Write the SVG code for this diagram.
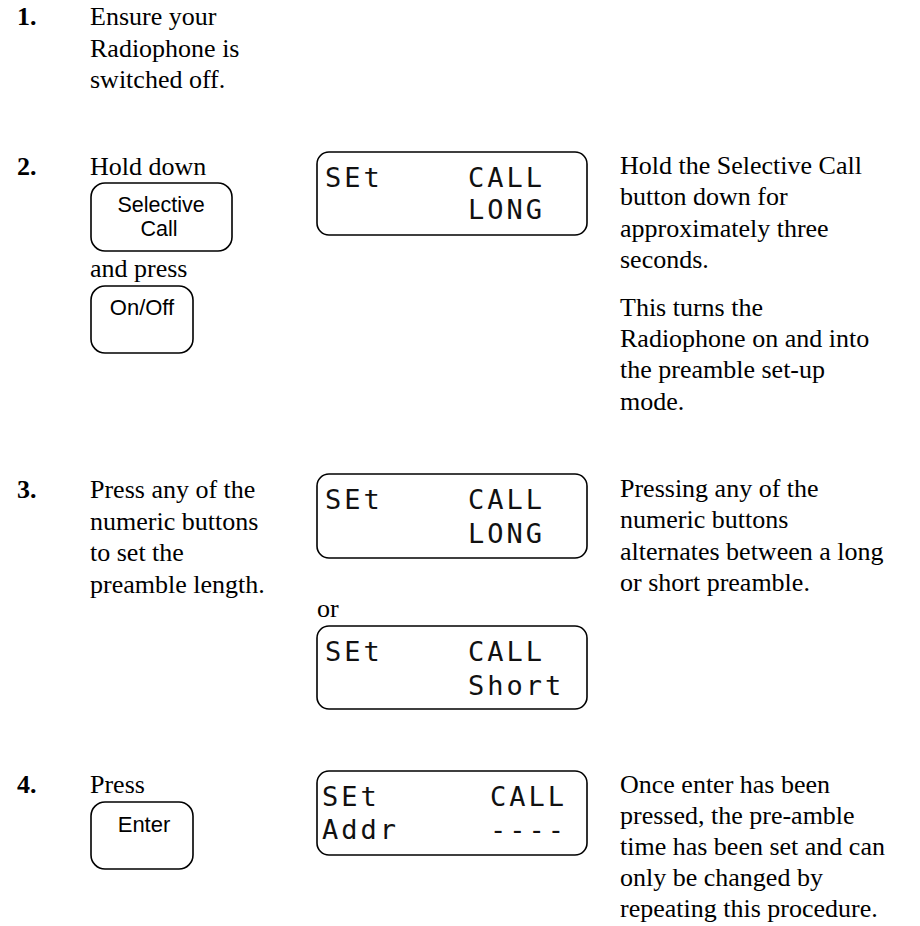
<svg xmlns="http://www.w3.org/2000/svg" width="920" height="926" viewBox="0 0 920 926">
<style>
.t{font-family:"Liberation Serif","Times New Roman",serif;font-size:26px;fill:#000}
.n{font-family:"Liberation Serif","Times New Roman",serif;font-size:26px;font-weight:bold;fill:#000}
.b{font-family:"Liberation Sans",Arial,sans-serif;font-size:22px;fill:#000;text-anchor:middle}
.btn{fill:#fff;stroke:#000;stroke-width:1.6}
.lcd{fill:#fff;stroke:#000;stroke-width:1.6}
.d{font-family:"DejaVu Sans Mono",monospace;font-size:27px;letter-spacing:3px;fill:#111}
</style>
<rect width="920" height="926" fill="#fff"/>
<g id="step1">
<text class="n" x="17" y="25">1.</text>
<text class="t" x="90" y="25">Ensure your</text>
<text class="t" x="90" y="57">Radiophone is</text>
<text class="t" x="90" y="88">switched off.</text>
</g>
<g id="step2">
<text class="n" x="17" y="175">2.</text>
<text class="t" x="90" y="175">Hold down</text>
<text class="t" x="90" y="277">and press</text>
</g>
<g id="btn-selective-call">
<rect class="btn" x="91" y="183" width="141" height="68" rx="14"/>
<text class="b" x="161" y="212" style="font-size:21.5px">Selective</text>
<text class="b" x="159" y="236" style="font-size:21.5px">Call</text>
</g>
<g id="btn-onoff">
<rect class="btn" x="91" y="286" width="102" height="67" rx="14"/>
<text class="b" x="142" y="315">On/Off</text>
</g>
<g id="lcd1">
<rect class="lcd" x="317" y="152" width="270" height="83" rx="12"/>
<text class="d" x="325" y="187">SEt</text>
<text class="d" x="468" y="187">CALL</text>
<text class="d" x="468" y="219">LONG</text>
</g>
<g id="note2">
<text class="t" x="620" y="174">Hold the Selective Call</text>
<text class="t" x="620" y="205">button down for</text>
<text class="t" x="620" y="237">approximately three</text>
<text class="t" x="620" y="268">seconds.</text>
<text class="t" x="620" y="316">This turns the</text>
<text class="t" x="620" y="347">Radiophone on and into</text>
<text class="t" x="620" y="378">the preamble set-up</text>
<text class="t" x="620" y="410">mode.</text>
</g>
<g id="step3">
<text class="n" x="17" y="498">3.</text>
<text class="t" x="90" y="498">Press any of the</text>
<text class="t" x="90" y="530">numeric buttons</text>
<text class="t" x="90" y="561">to set the</text>
<text class="t" x="90" y="593">preamble length.</text>
</g>
<g id="lcd2">
<rect class="lcd" x="317" y="474" width="270" height="84" rx="12"/>
<text class="d" x="325" y="509">SEt</text>
<text class="d" x="468" y="509">CALL</text>
<text class="d" x="468" y="543">LONG</text>
</g>
<g id="or">
<text class="t" x="317" y="617">or</text>
</g>
<g id="lcd3">
<rect class="lcd" x="317" y="626" width="270" height="83" rx="12"/>
<text class="d" x="325" y="661">SEt</text>
<text class="d" x="468" y="661">CALL</text>
<text class="d" x="468" y="695">Short</text>
</g>
<g id="note3">
<text class="t" x="620" y="497">Pressing any of the</text>
<text class="t" x="620" y="528">numeric buttons</text>
<text class="t" x="620" y="560">alternates between a long</text>
<text class="t" x="620" y="591">or short preamble.</text>
</g>
<g id="step4">
<text class="n" x="17" y="793">4.</text>
<text class="t" x="90" y="793">Press</text>
</g>
<g id="btn-enter">
<rect class="btn" x="91" y="802" width="102" height="67" rx="14"/>
<text class="b" x="144" y="832">Enter</text>
</g>
<g id="lcd4">
<rect class="lcd" x="317" y="771" width="270" height="84" rx="12"/>
<text class="d" x="322" y="806">SEt</text>
<text class="d" x="490" y="806">CALL</text>
<text class="d" x="322" y="839">Addr</text>
<text class="d" x="490" y="839">----</text>
</g>
<g id="note4">
<text class="t" x="620" y="793">Once enter has been</text>
<text class="t" x="620" y="824">pressed, the pre-amble</text>
<text class="t" x="620" y="855">time has been set and can</text>
<text class="t" x="620" y="886">only be changed by</text>
<text class="t" x="620" y="917">repeating this procedure.</text>
</g>
<g id="connectors"/>
</svg>
